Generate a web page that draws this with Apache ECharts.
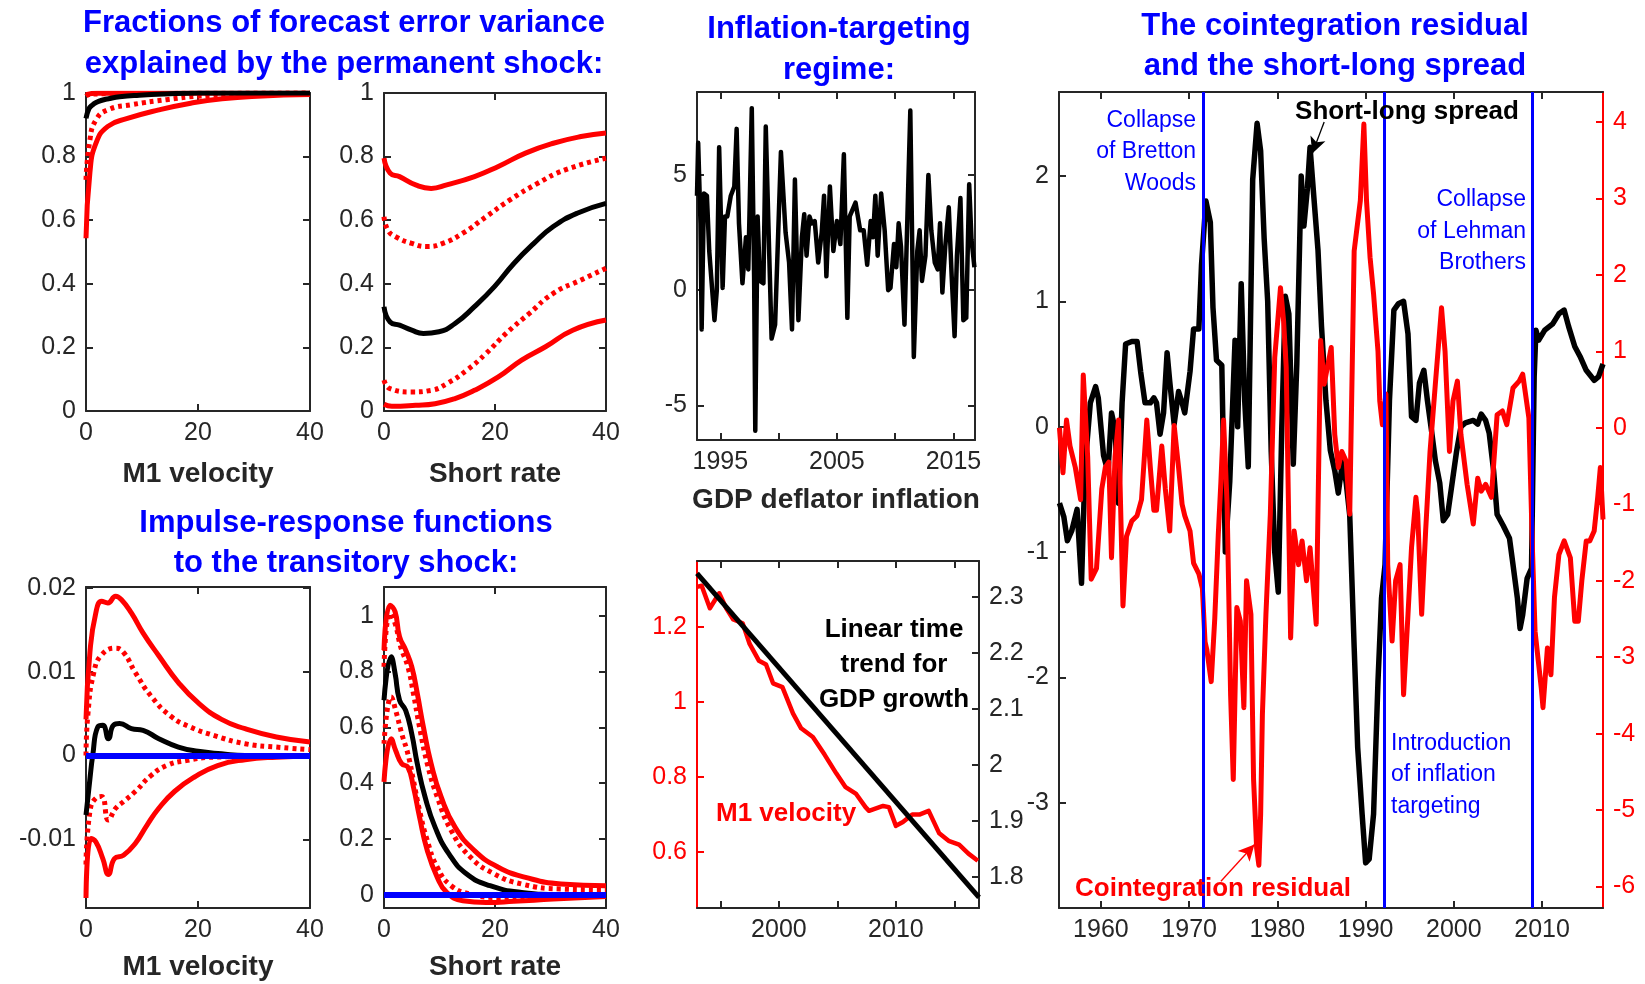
<!DOCTYPE html>
<html>
<head>
<meta charset="utf-8">
<script src="https://cdn.jsdelivr.net/npm/echarts@6/dist/echarts.min.js"></script>
<style>
html,body{margin:0;padding:0;background:#fff}
#main{width:1645px;height:984px}
</style>
</head>
<body>
<div id="main"></div>
<script>
// ---- data ----
// forecast error variance shares, M1 velocity: [horizon, share]
var fevM1Hi95 = [[0,0.995],[2,0.999],[40,1]];
var fevM1Hi68 = [[0,0.99],[1,0.997],[40,1]];
var fevM1Med = [[0,0.92],[0.5,0.95],[1,0.96],[1.8,0.97],[3,0.978],[4,0.982],[6,0.988],[9.5,0.993],[14,0.997],[20,1],[40,1]];
var fevM1Lo68 = [[0,0.727],[0.7,0.853],[1.8,0.916],[3.9,0.947],[8.1,0.963],[14.4,0.979],[20,0.99],[28,0.996],[40,1]];
var fevM1Lo95 = [[0,0.543],[0.7,0.75],[1.8,0.843],[3.9,0.895],[7.4,0.92],[13,0.947],[18.7,0.968],[24.3,0.982],[30.6,0.99],[40,0.995]];
// forecast error variance shares, short rate
var fevSrHi95 = [[0,0.795],[1.1,0.748],[2.8,0.737],[5.7,0.711],[8.5,0.70],[11.3,0.711],[16.3,0.737],[20.6,0.769],[25.5,0.811],[30.5,0.842],[35.5,0.863],[40,0.874]];
var fevSrHi68 = [[0,0.611],[0.7,0.569],[2.1,0.548],[5,0.527],[7.8,0.517],[10.6,0.527],[14.2,0.559],[18.4,0.611],[22.7,0.664],[27.7,0.716],[32.6,0.758],[40,0.795]];
var fevSrMed = [[0,0.328],[1.1,0.28],[2.8,0.27],[5,0.254],[7.1,0.244],[9.9,0.249],[12.8,0.275],[16.3,0.328],[19.9,0.391],[23.4,0.464],[27,0.527],[30.5,0.58],[34.8,0.622],[40,0.653]];
var fevSrLo68 = [[0,0.097],[1.1,0.07],[5,0.06],[8.5,0.065],[11.3,0.086],[14.9,0.128],[18.4,0.181],[22,0.244],[26.2,0.307],[30.5,0.37],[35.5,0.412],[40,0.449]];
var fevSrLo95 = [[0,0.021],[1.4,0.015],[5.7,0.018],[9.2,0.023],[12.8,0.039],[16.3,0.065],[20.6,0.107],[24.8,0.16],[29.1,0.202],[34,0.254],[40,0.286]];
// impulse responses to the transitory shock, M1 velocity
var irfM1Hi95 = [[0,0.0043],[0.7,0.0123],[1.75,0.017],[2.8,0.0184],[3.9,0.0182],[5.3,0.019],[6.3,0.0186],[8.1,0.017],[10.2,0.0146],[13,0.0119],[16.5,0.0087],[20,0.0063],[24.2,0.0043],[28.4,0.0032],[34,0.0022],[40,0.0016]];
var irfM1Hi68 = [[0,0.0],[0.35,0.005],[1.4,0.0099],[2.8,0.012],[5.3,0.0128],[6.7,0.0123],[8.8,0.0099],[11.6,0.0071],[15.1,0.0047],[18.6,0.0034],[22.8,0.0024],[28.4,0.0014],[34,0.001],[40,0.0007]];
var irfM1Med = [[0,-0.0071],[0.7,-0.0028],[1.2,0],[2.1,0.0034],[3,0.0036],[4,0.002],[4.9,0.0036],[6,0.0038],[8.1,0.0032],[10.2,0.003],[13,0.002],[16.5,0.001],[20,0.0005],[24.2,0.0002],[28.4,0],[40,0]];
var irfM1Lo68 = [[0,-0.013],[0.7,-0.0067],[1.75,-0.0051],[2.8,-0.0049],[4,-0.0077],[5.3,-0.0063],[6.7,-0.0055],[8.8,-0.0043],[11.6,-0.0024],[14.4,-0.0012],[17.9,-0.0006],[22.8,-0.0002],[40,0]];
var irfM1Lo95 = [[0,-0.017],[0.9,-0.0099],[1.75,-0.0103],[3,-0.0123],[4,-0.0142],[5.1,-0.0123],[6.7,-0.0119],[8.8,-0.0105],[10.9,-0.0083],[13,-0.0063],[15.8,-0.0043],[19.3,-0.0026],[23.5,-0.0012],[28.4,-0.0005],[34,-0.0002],[40,-0.0001]];
// impulse responses to the transitory shock, short rate
var irfSrHi95 = [[0,0.877],[1.1,1.038],[2,1.014],[2.8,0.925],[3.9,0.877],[5,0.817],[6,0.721],[7.1,0.601],[8.5,0.469],[10.3,0.35],[12.8,0.242],[16.3,0.158],[20.6,0.098],[25.5,0.062],[31.9,0.038],[40,0.032]];
var irfSrHi68 = [[0,0.817],[1.1,1.008],[2,0.972],[3,0.889],[4.3,0.817],[5.3,0.721],[6.4,0.601],[7.8,0.469],[9.6,0.35],[12.1,0.23],[15.6,0.134],[19.9,0.074],[24.8,0.038],[31.9,0.02],[40,0.017]];
var irfSrMed = [[0,0.697],[1.3,0.853],[2,0.793],[2.8,0.697],[3.9,0.661],[5,0.577],[6,0.469],[7.4,0.35],[9.2,0.242],[11.7,0.146],[14.9,0.074],[19.1,0.032],[24.8,0.008],[31.9,0],[40,0]];
var irfSrLo68 = [[0,0.541],[1.3,0.709],[2.1,0.661],[3.2,0.577],[4.3,0.505],[5.3,0.41],[6.4,0.302],[7.8,0.194],[9.6,0.098],[12.1,0.032],[15.6,0.002],[20.6,-0.01],[26.2,-0.007],[40,-0.002]];
var irfSrLo95 = [[0,0.404],[1.3,0.559],[2.1,0.517],[3.2,0.469],[4.3,0.457],[5.3,0.386],[6.4,0.278],[7.8,0.158],[9.6,0.062],[11.3,0.008],[14.2,-0.022],[18.4,-0.028],[23.4,-0.024],[30.5,-0.016],[40,-0.007]];
var zeroLevel = 0;

// GDP deflator inflation, inflation-targeting regime: [year, %]
var inflation = [[1993.0,4.1],[1993.1,6.4],[1993.3,2.9],[1993.4,-1.7],[1993.6,4.2],[1993.85,4.1],[1994.05,1.7],[1994.5,-1.3],[1994.7,0.0],[1994.9,6.2],[1995.2,0.1],[1995.4,3.2],[1995.6,3.2],[1995.9,4.1],[1996.2,4.5],[1996.4,7.0],[1996.6,2.9],[1996.9,0.3],[1997.2,2.3],[1997.4,0.9],[1997.7,7.9],[1997.9,0.6],[1998.0,-6.1],[1998.2,3.2],[1998.4,0.4],[1998.7,0.3],[1998.9,7.1],[1999.2,1.5],[1999.4,-2.1],[1999.7,-1.5],[2000.2,6.0],[2000.6,2.5],[2000.9,1.2],[2001.15,-1.7],[2001.4,4.8],[2001.7,-1.3],[2002.0,2.3],[2002.2,3.3],[2002.4,1.5],[2002.65,3.2],[2002.85,2.9],[2003.1,3.0],[2003.4,1.2],[2003.7,2.5],[2003.9,4.1],[2004.1,0.6],[2004.4,4.5],[2004.7,1.7],[2005.0,3.0],[2005.3,2.0],[2005.6,5.9],[2005.9,-1.2],[2006.1,3.2],[2006.6,3.8],[2007.0,2.6],[2007.3,2.6],[2007.6,1.1],[2007.9,3.0],[2008.1,2.3],[2008.3,4.1],[2008.5,1.5],[2008.8,4.2],[2009.1,2.6],[2009.4,0.0],[2009.6,0.1],[2009.9,2.0],[2010.1,1.0],[2010.3,2.9],[2010.5,1.9],[2010.8,-1.5],[2011.1,4.1],[2011.3,7.8],[2011.6,-2.9],[2011.9,1.7],[2012.1,2.6],[2012.3,0.4],[2012.6,1.5],[2012.85,5.0],[2013.1,2.6],[2013.4,1.2],[2013.65,0.9],[2013.85,2.9],[2014.05,-0.1],[2014.3,1.9],[2014.6,3.6],[2014.85,0.6],[2015.1,-2.0],[2015.3,1.5],[2015.6,4.0],[2015.85,-1.3],[2016.1,-1.2],[2016.35,4.6],[2016.55,2.2],[2016.8,1.0]];

// M1 velocity and the linear time trend for GDP growth
var m1Velocity = [[1993.0,1.307],[1993.4,1.31],[1994.1,1.25],[1994.5,1.27],[1994.9,1.29],[1995.5,1.25],[1996.1,1.22],[1996.9,1.21],[1997.5,1.155],[1998.3,1.11],[1998.9,1.10],[1999.5,1.05],[2000.3,1.04],[2001.2,0.97],[2001.9,0.93],[2002.9,0.907],[2003.9,0.86],[2004.9,0.81],[2005.7,0.773],[2006.6,0.755],[2007.4,0.72],[2007.7,0.71],[2008.9,0.723],[2009.4,0.72],[2010.0,0.67],[2010.6,0.68],[2011.4,0.70],[2012.0,0.70],[2012.8,0.71],[2013.7,0.65],[2014.5,0.63],[2015.4,0.62],[2016.2,0.596],[2017.0,0.577]];
var gdpTrend = [[1993.0,2.342],[2017.1,1.764]];

// short-long spread and cointegration residual
var spread = [[1955.3,-0.61],[1955.8,-0.72],[1956.2,-0.91],[1956.7,-0.83],[1957.3,-0.66],[1957.8,-1.25],[1958.2,-0.32],[1958.8,0.19],[1959.4,0.32],[1959.7,0.23],[1960.3,-0.23],[1960.8,-0.36],[1961.2,0.11],[1961.6,-0.02],[1962.0,-0.61],[1962.4,0.19],[1962.8,0.66],[1963.5,0.68],[1964.1,0.68],[1964.5,0.44],[1965.0,0.19],[1965.6,0.19],[1966.0,0.23],[1966.3,0.19],[1966.7,-0.06],[1967.1,0.11],[1967.5,0.59],[1967.8,0.36],[1968.3,0.02],[1968.8,0.28],[1969.2,0.19],[1969.5,0.11],[1970.1,0.44],[1970.5,0.78],[1971.1,0.78],[1971.4,1.29],[1971.9,1.80],[1972.4,1.63],[1972.7,0.95],[1973.1,0.53],[1973.7,0.49],[1974.1,-1.0],[1974.6,-0.44],[1975.2,0.69],[1975.5,0.0],[1975.9,1.14],[1976.3,0.2],[1976.7,-0.32],[1977.2,1.97],[1977.7,2.42],[1978.1,2.2],[1978.5,1.5],[1978.9,1.0],[1979.3,-0.2],[1979.7,-1.0],[1980.1,-1.32],[1980.5,0.0],[1980.9,1.04],[1981.3,0.9],[1981.8,-0.3],[1982.2,0.5],[1982.7,2.0],[1983.0,1.6],[1983.4,1.9],[1983.7,2.23],[1984.1,1.86],[1984.6,1.41],[1985.0,0.8],[1985.5,0.21],[1986.0,-0.19],[1986.5,-0.35],[1986.9,-0.53],[1987.4,-0.27],[1987.8,-0.45],[1988.2,-0.71],[1988.7,-1.76],[1989.1,-2.56],[1989.6,-3.09],[1990.0,-3.48],[1990.4,-3.45],[1990.9,-3.09],[1991.4,-2.03],[1991.8,-1.37],[1992.2,-1.1],[1992.7,0.21],[1993.2,0.93],[1993.7,0.98],[1994.3,1.0],[1994.8,0.74],[1995.2,0.08],[1995.7,0.05],[1996.1,0.35],[1996.6,0.45],[1997.0,0.21],[1997.5,-0.05],[1997.9,-0.27],[1998.4,-0.45],[1998.8,-0.75],[1999.3,-0.7],[1999.8,-0.45],[2000.3,-0.2],[2000.8,0.0],[2001.3,0.03],[2002.2,0.05],[2002.7,0.02],[2003.1,0.1],[2003.6,0.05],[2004.0,-0.05],[2004.5,-0.35],[2004.9,-0.7],[2005.6,-0.79],[2006.3,-0.89],[2006.7,-1.10],[2007.2,-1.37],[2007.5,-1.61],[2007.8,-1.5],[2008.3,-1.21],[2008.8,-1.13],[2009.1,0.4],[2009.3,0.77],[2009.6,0.69],[2010.3,0.77],[2011.2,0.82],[2011.9,0.9],[2012.5,0.93],[2013.0,0.8],[2013.7,0.64],[2014.3,0.56],[2015.0,0.45],[2015.9,0.37],[2016.4,0.4],[2016.9,0.5]];
var residual = [[1955.3,0.0],[1955.7,-0.59],[1956.1,0.1],[1956.5,-0.24],[1957.1,-0.52],[1957.7,-0.94],[1958.0,0.69],[1958.5,-0.38],[1958.9,-1.98],[1959.5,-1.84],[1960.1,-0.8],[1960.5,-0.52],[1960.9,-0.45],[1961.2,-1.7],[1961.6,-0.38],[1962.0,0.1],[1962.5,-2.33],[1962.9,-1.42],[1963.5,-1.22],[1964.1,-1.15],[1964.6,-0.94],[1965.2,0.1],[1965.6,-0.52],[1966.0,-1.08],[1966.3,-1.08],[1966.9,-0.24],[1967.3,-0.8],[1967.8,-1.35],[1968.3,0.03],[1968.8,-0.52],[1969.2,-1.0],[1969.5,-1.15],[1970.1,-1.35],[1970.5,-1.77],[1971.1,-1.91],[1971.5,-2.1],[1971.8,-2.8],[1972.0,-2.9],[1972.5,-3.32],[1972.9,-2.5],[1973.3,-1.4],[1973.6,-0.7],[1973.9,0.1],[1974.3,-1.0],[1974.7,-3.5],[1975.0,-4.6],[1975.4,-2.35],[1975.8,-2.53],[1976.2,-3.66],[1976.5,-2.0],[1977.0,-2.44],[1977.3,-4.6],[1977.65,-5.5],[1977.9,-5.72],[1978.1,-5.06],[1978.3,-3.75],[1978.7,-2.44],[1979.2,-1.13],[1979.7,0.92],[1980.35,1.83],[1980.7,1.4],[1981.0,0.79],[1981.5,-2.75],[1981.9,-1.35],[1982.4,-1.79],[1982.8,-1.48],[1983.3,-2.0],[1983.7,-1.57],[1984.4,-2.57],[1984.9,1.14],[1985.3,0.57],[1986.1,1.05],[1986.5,-0.09],[1986.9,-0.52],[1987.3,-0.31],[1987.8,-0.44],[1988.2,-1.13],[1988.7,2.31],[1989.4,2.97],[1989.8,3.97],[1990.1,2.97],[1990.5,2.23],[1990.9,1.75],[1991.4,1.0],[1991.6,0.35],[1991.9,0.04],[1992.3,0.44],[1992.5,-1.79],[1993.0,-2.79],[1993.4,-2.0],[1993.9,-1.79],[1994.3,-3.49],[1994.8,-2.44],[1995.2,-1.57],[1995.7,-0.91],[1995.9,-1.13],[1996.35,-2.44],[1996.8,-1.35],[1997.3,-0.31],[1997.9,0.57],[1998.6,1.57],[1999.0,1.0],[1999.5,-0.31],[1999.9,0.35],[2000.4,0.61],[2000.8,-0.09],[2001.5,-0.74],[2002.2,-1.26],[2002.7,-0.66],[2003.1,-0.83],[2003.6,-0.74],[2004.25,-0.91],[2004.9,0.17],[2005.5,0.22],[2006.0,0.04],[2006.7,0.52],[2007.4,0.61],[2007.8,0.7],[2008.5,0.13],[2008.9,-1.57],[2009.2,-2.66],[2009.9,-3.4],[2010.1,-3.66],[2010.6,-2.88],[2011.0,-3.23],[2011.4,-2.22],[2011.9,-1.66],[2012.5,-1.48],[2013.2,-1.7],[2013.7,-2.53],[2014.1,-2.53],[2014.5,-2.0],[2015.0,-1.48],[2015.4,-1.48],[2015.9,-1.35],[2016.3,-0.91],[2016.6,-0.52],[2016.9,-1.2]];
var eventYears = [1971.6, 1992.1, 2008.9];
var spreadArrow = [[1985.3, 2.43], [1983.95, 2.18]];
var residualArrow = [[1973.6, -5.93], [1977.4, -5.45]];

// tick positions
var horizonTicks = [0, 20, 40];
var shareTicks = [0, 0.2, 0.4, 0.6, 0.8, 1];
var irfM1Ticks = [-0.01, 0, 0.01, 0.02];
var irfSrTicks = [0, 0.2, 0.4, 0.6, 0.8, 1];
var inflYearTicks = [1995, 2000, 2005, 2010, 2015];
var inflYearLabels = [1995, 2005, 2015];
var inflTicks = [-5, 0, 5];
var veloYearLabels = [2000, 2010];
var veloTicks = [0.6, 0.8, 1, 1.2];
var trendTicks = [1.8, 1.9, 2, 2.1, 2.2, 2.3];
var decadeTicks = [1960, 1970, 1980, 1990, 2000, 2010];
var spreadTicks = [-3, -2, -1, 0, 1, 2];
var residTicks = [-6, -5, -4, -3, -2, -1, 0, 1, 2, 3, 4];

// ---- styling ----
var FONT = '"Liberation Sans", Arial, sans-serif';
var AX = '#262626';
var RED = '#ff0000';
var BLUE = '#0000ff';
var BLACK = '#000000';

function fmt(v) { return String(Math.round(v * 1000) / 1000); }

function axis(g, pos, min, max, ticks, labels, color, labelColor) {
    return {
        type: 'value', gridIndex: g, position: pos, min: min, max: max, scale: true,
        axisLine: { show: true, onZero: false, lineStyle: { color: color, width: 2 } },
        axisTick: { show: true, inside: true, length: 7, customValues: ticks, lineStyle: { color: color, width: 2 } },
        axisLabel: { show: labels.length > 0, customValues: labels, color: labelColor || AX, fontSize: 25, fontFamily: FONT, margin: 10, formatter: fmt },
        splitLine: { show: false }
    };
}

var grids = [
    { left: 86, top: 93, width: 224, height: 318 },
    { left: 384, top: 93, width: 222, height: 318 },
    { left: 86, top: 587, width: 224, height: 321 },
    { left: 384, top: 587, width: 222, height: 321 },
    { left: 697, top: 92, width: 278, height: 348 },
    { left: 697, top: 561, width: 282, height: 347 },
    { left: 1059, top: 92, width: 544, height: 816 }
];

var xAxes = [], yAxes = [];
// panels A-D: horizons 0..40
var yRanges = [[0, 1, shareTicks], [0, 1, shareTicks], [-0.0182, 0.0201, irfM1Ticks], [-0.048, 1.103, irfSrTicks]];
for (var g = 0; g < 4; g++) {
    xAxes.push(axis(g, 'bottom', 0, 40, horizonTicks, horizonTicks, AX));
    xAxes.push(axis(g, 'top', 0, 40, horizonTicks, [], AX));
    yAxes.push(axis(g, 'left', yRanges[g][0], yRanges[g][1], yRanges[g][2], yRanges[g][2], AX));
    yAxes.push(axis(g, 'right', yRanges[g][0], yRanges[g][1], yRanges[g][2], [], AX));
}
// panel E: x 8/9, y 8/9
xAxes.push(axis(4, 'bottom', 1993.0, 2016.85, inflYearTicks, inflYearLabels, AX));
xAxes.push(axis(4, 'top', 1993.0, 2016.85, inflYearTicks, [], AX));
yAxes.push(axis(4, 'left', -6.5, 8.6, inflTicks, inflTicks, AX));
yAxes.push(axis(4, 'right', -6.5, 8.6, inflTicks, [], AX));
// panel F: x 10/11, y 10 (red left) / 11 (black right)
xAxes.push(axis(5, 'bottom', 1993.0, 2017.1, inflYearTicks, veloYearLabels, AX));
xAxes.push(axis(5, 'top', 1993.0, 2017.1, inflYearTicks, [], AX));
yAxes.push(axis(5, 'left', 0.451, 1.376, veloTicks, veloTicks, RED, RED));
yAxes.push(axis(5, 'right', 1.745, 2.364, trendTicks, trendTicks, AX));
// panel G: x 12/13, y 12 (black left) / 13 (red right)
xAxes.push(axis(6, 'bottom', 1955.25, 2016.9, decadeTicks, decadeTicks, AX));
xAxes.push(axis(6, 'top', 1955.25, 2016.9, decadeTicks, [], AX));
yAxes.push(axis(6, 'left', -3.84, 2.67, spreadTicks, spreadTicks, AX));
yAxes.push(axis(6, 'right', -6.28, 4.39, residTicks, residTicks, RED, RED));

function line(data, xi, yi, color, width, dotted, smooth) {
    return {
        type: 'line', data: data, xAxisIndex: xi, yAxisIndex: yi,
        symbol: 'none', showSymbol: false, silent: true, animation: false,
        smooth: smooth ? 0.5 : false,
        lineStyle: { color: color, width: width, type: dotted ? [4, 4] : 'solid', cap: 'butt', join: 'round' },
        itemStyle: { color: color }
    };
}

function bands(p, hi95, hi68, med, lo68, lo95, zero) {
    var xi = 2 * p, yi = 2 * p;
    var out = [
        line(hi95, xi, yi, RED, 5, false, true),
        line(lo95, xi, yi, RED, 5, false, true),
        line(hi68, xi, yi, RED, 5, true, true),
        line(lo68, xi, yi, RED, 5, true, true),
        line(med, xi, yi, BLACK, 5, false, true)
    ];
    if (zero) {
        out[4].markLine = {
            silent: true, symbol: ['none', 'none'], animation: false,
            label: { show: false },
            lineStyle: { color: BLUE, width: 6, type: 'solid' },
            data: [{ yAxis: zeroLevel }]
        };
    }
    return out;
}

var series = [].concat(
    bands(0, fevM1Hi95, fevM1Hi68, fevM1Med, fevM1Lo68, fevM1Lo95, false),
    bands(1, fevSrHi95, fevSrHi68, fevSrMed, fevSrLo68, fevSrLo95, false),
    bands(2, irfM1Hi95, irfM1Hi68, irfM1Med, irfM1Lo68, irfM1Lo95, true),
    bands(3, irfSrHi95, irfSrHi68, irfSrMed, irfSrLo68, irfSrLo95, true)
);
series.push(line(inflation, 8, 8, BLACK, 4.5, false, false));
series.push(line(m1Velocity, 10, 10, RED, 4.5, false, false));
series.push(line(gdpTrend, 10, 11, BLACK, 5, false, false));

var spreadSeries = line(spread, 12, 12, BLACK, 5.5, false, false);
spreadSeries.markLine = {
    silent: true, animation: false, label: { show: false }, symbol: ['none', 'arrow'], symbolSize: [12, 16],
    lineStyle: { color: BLACK, width: 1.3, type: 'solid' },
    data: [[{ coord: spreadArrow[0] }, { coord: spreadArrow[1] }]]
};
var residSeries = line(residual, 12, 13, RED, 5, false, false);
residSeries.markLine = {
    silent: true, animation: false, label: { show: false }, symbol: ['none', 'none'],
    lineStyle: { color: BLUE, width: 3, type: 'solid' },
    data: eventYears.map(function (y) { return { xAxis: y }; }).concat([
        [{ coord: residualArrow[0], symbol: 'none', lineStyle: { color: RED, width: 1.3 } },
         { coord: residualArrow[1], symbol: 'arrow', symbolSize: [12, 16], lineStyle: { color: RED, width: 1.3 } }]
    ])
};
series.push(spreadSeries, residSeries);

function txt(s, x, y, size, color, bold, align) {
    return {
        type: 'text', x: x, y: y, silent: true, z: 100,
        style: { text: s, fill: color, fontSize: size, fontWeight: bold ? 'bold' : 'normal', fontFamily: FONT, align: align || 'center', verticalAlign: 'middle' }
    };
}

var texts = [
    txt('Fractions of forecast error variance', 344, 23, 31, BLUE, true),
    txt('explained by the permanent shock:', 344, 64, 31, BLUE, true),
    txt('Impulse-response functions', 346, 523, 31, BLUE, true),
    txt('to the transitory shock:', 346, 563, 31, BLUE, true),
    txt('Inflation-targeting', 839, 29, 31, BLUE, true),
    txt('regime:', 839, 70, 31, BLUE, true),
    txt('The cointegration residual', 1335, 26, 31, BLUE, true),
    txt('and the short-long spread', 1335, 66, 31, BLUE, true),
    txt('M1 velocity', 198, 474, 28, AX, true),
    txt('Short rate', 495, 474, 28, AX, true),
    txt('M1 velocity', 198, 967, 28, AX, true),
    txt('Short rate', 495, 967, 28, AX, true),
    txt('GDP deflator inflation', 836, 500, 28, AX, true),
    txt('Linear time', 894, 630, 26, BLACK, true),
    txt('trend for', 894, 665, 26, BLACK, true),
    txt('GDP growth', 894, 700, 26, BLACK, true),
    txt('M1 velocity', 716, 814, 26, RED, true, 'left'),
    txt('Collapse', 1196, 121, 23, BLUE, false, 'right'),
    txt('of Bretton', 1196, 152, 23, BLUE, false, 'right'),
    txt('Woods', 1196, 184, 23, BLUE, false, 'right'),
    txt('Short-long spread', 1407, 112, 26, BLACK, true),
    txt('Collapse', 1526, 200, 23, BLUE, false, 'right'),
    txt('of Lehman', 1526, 232, 23, BLUE, false, 'right'),
    txt('Brothers', 1526, 263, 23, BLUE, false, 'right'),
    txt('Introduction', 1391, 744, 23, BLUE, false, 'left'),
    txt('of inflation', 1391, 775, 23, BLUE, false, 'left'),
    txt('targeting', 1391, 807, 23, BLUE, false, 'left'),
    txt('Cointegration residual', 1075, 889, 26, RED, true, 'left')
];

var chart = echarts.init(document.getElementById('main'));
chart.setOption({
    backgroundColor: '#ffffff',
    animation: false,
    textStyle: { fontFamily: FONT },
    grid: grids,
    xAxis: xAxes,
    yAxis: yAxes,
    series: series,
    graphic: texts
});
</script>
</body>
</html>
